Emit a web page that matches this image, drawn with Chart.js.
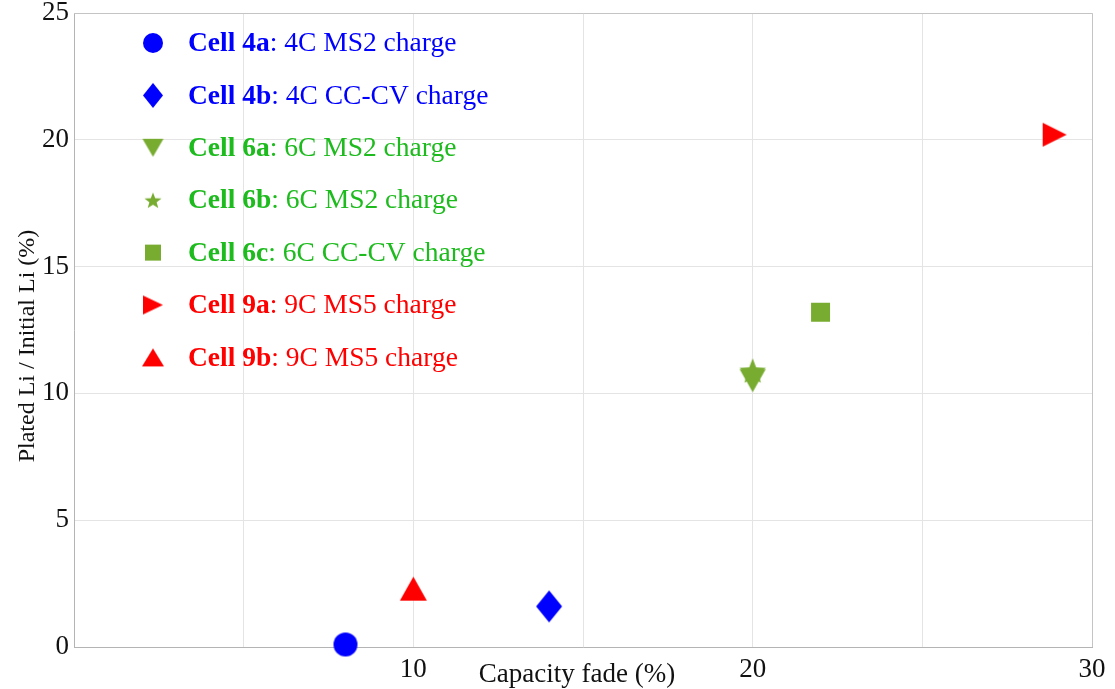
<!DOCTYPE html>
<html>
<head>
<meta charset="utf-8">
<title>Plated Li vs capacity fade</title>
<script src="https://cdn.jsdelivr.net/npm/chart.js@4.4.1/dist/chart.umd.min.js"></script>
<style>
  html, body { margin: 0; padding: 0; background: #fff; }
  #wrap { width: 1115px; height: 689px; position: relative; }
</style>
</head>
<body>
<div id="wrap"><canvas id="chart" width="1115" height="689"></canvas></div>
<script>
// data
const cellNames = ['Cell 4a', 'Cell 4b', 'Cell 6a', 'Cell 6b', 'Cell 6c', 'Cell 9a', 'Cell 9b'];
const chargeNames = ['4C MS2 charge', '4C CC-CV charge', '6C MS2 charge', '6C MS2 charge', '6C CC-CV charge', '9C MS5 charge', '9C MS5 charge'];
const capacityFade = [8, 14, 20, 20, 22, 28.9, 10];
const platedLi = [0.1, 1.6, 10.5, 10.9, 13.2, 20.2, 2.3];
const xTickLabels = [10, 20, 30];
const yTickLabels = [0, 5, 10, 15, 20, 25];

// styles
const BLUE = '#0000ff', GREEN = '#77ac30', RED = '#ff0000';
const shapes = ['circle', 'diamond', 'down', 'star', 'square', 'right', 'up'];
const markerColors = [BLUE, BLUE, GREEN, GREEN, GREEN, RED, RED];
const textColors = [BLUE, BLUE, '#1dbb1d', '#1dbb1d', '#1dbb1d', RED, RED];
const plotSizes = [[24, 24], [26, 32], [26, 23], [28, 27], [19, 19], [24, 24], [27, 24]];
const legendSizes = [[20, 20], [20, 25], [21, 18], [18, 17], [16, 16], [20, 19], [22, 18]];
const SERIF = '"Liberation Serif", "Times New Roman", serif';

function makeMarker(shape, color, w, h) {
  const c = document.createElement('canvas');
  c.width = Math.ceil(w) + 2;
  c.height = Math.ceil(h) + 2;
  const g = c.getContext('2d');
  const cx = c.width / 2, cy = c.height / 2, rx = w / 2, ry = h / 2;
  g.fillStyle = color;
  g.beginPath();
  if (shape === 'circle') {
    g.ellipse(cx, cy, rx, ry, 0, 0, Math.PI * 2);
  } else if (shape === 'diamond') {
    g.moveTo(cx, cy - ry); g.lineTo(cx + rx, cy); g.lineTo(cx, cy + ry); g.lineTo(cx - rx, cy);
  } else if (shape === 'down') {
    g.moveTo(cx - rx, cy - ry); g.lineTo(cx + rx, cy - ry); g.lineTo(cx, cy + ry);
  } else if (shape === 'up') {
    g.moveTo(cx - rx, cy + ry); g.lineTo(cx + rx, cy + ry); g.lineTo(cx, cy - ry);
  } else if (shape === 'right') {
    g.moveTo(cx - rx, cy - ry); g.lineTo(cx + rx, cy); g.lineTo(cx - rx, cy + ry);
  } else if (shape === 'square') {
    g.rect(cx - rx, cy - ry, w, h);
  } else if (shape === 'star') {
    for (let i = 0; i < 10; i++) {
      const r = i % 2 ? 0.42 : 1;
      const a = -Math.PI / 2 + i * Math.PI / 5;
      g.lineTo(cx + rx * r * Math.cos(a), cy + ry * r * Math.sin(a) + ry * 0.1);
    }
  }
  g.closePath();
  g.fill();
  return c;
}

const plotMarkers = shapes.map((s, i) => makeMarker(s, markerColors[i], plotSizes[i][0], plotSizes[i][1]));
const legendMarkers = shapes.map((s, i) => makeMarker(s, markerColors[i], legendSizes[i][0], legendSizes[i][1]));

const datasets = cellNames.map((name, i) => ({
  label: name + ': ' + chargeNames[i],
  data: [{ x: capacityFade[i], y: platedLi[i] }],
  pointStyle: plotMarkers[i],
  pointRadius: 12,
  pointHoverRadius: 12,
  clip: false
}));

// frame, axis titles and the two-font legend
const decorations = {
  id: 'decorations',
  afterDraw(chart) {
    const { ctx, chartArea: a } = chart;
    ctx.save();
    ctx.strokeStyle = '#c4c4c4';
    ctx.lineWidth = 1;
    ctx.beginPath();
    ctx.moveTo(a.left, a.top + 0.5);
    ctx.lineTo(a.right + 0.5, a.top + 0.5);
    ctx.lineTo(a.right + 0.5, a.bottom);
    ctx.stroke();

    ctx.fillStyle = '#111';
    ctx.textAlign = 'center';
    ctx.textBaseline = 'middle';
    ctx.font = '27px ' + SERIF;
    ctx.fillText('Capacity fade (%)', 577, 675);
    ctx.save();
    ctx.translate(28, 346);
    ctx.rotate(-Math.PI / 2);
    ctx.font = '24px ' + SERIF;
    ctx.fillText('Plated Li / Initial Li (%)', 0, 0);
    ctx.restore();

    ctx.textAlign = 'left';
    cellNames.forEach((name, i) => {
      const y = 44 + i * 52.4;
      const m = legendMarkers[i];
      ctx.drawImage(m, 153 - m.width / 2, y - 1 - m.height / 2);
      ctx.fillStyle = textColors[i];
      ctx.font = 'bold 27.5px ' + SERIF;
      ctx.fillText(name, 188, y);
      const w = ctx.measureText(name).width;
      ctx.font = '27.5px ' + SERIF;
      ctx.fillText(': ' + chargeNames[i], 188 + w, y);
    });
    ctx.restore();
  }
};

new Chart(document.getElementById('chart'), {
  type: 'scatter',
  data: { datasets },
  options: {
    responsive: false,
    animation: false,
    events: [],
    layout: { padding: { top: 13, right: 23, left: 0, bottom: 0 } },
    plugins: {
      legend: { display: false },
      tooltip: { enabled: false }
    },
    scales: {
      x: {
        type: 'linear',
        min: 0,
        max: 30,
        afterFit(scale) { scale.height = 42; },
        grid: { color: '#e4e4e4', lineWidth: 1, drawTicks: false },
        border: { display: true, color: '#b4b4b4' },
        ticks: {
          stepSize: 5,
          padding: 9,
          maxRotation: 0,
          color: '#111',
          font: { family: SERIF, size: 27, lineHeight: 1 },
          callback: v => xTickLabels.includes(v) ? String(v) : ''
        }
      },
      y: {
        type: 'linear',
        min: 0,
        max: 25,
        afterFit(scale) { scale.width = 74; },
        grid: { color: '#e4e4e4', lineWidth: 1, drawTicks: false },
        border: { display: true, color: '#b4b4b4' },
        ticks: {
          stepSize: 5,
          padding: 5,
          color: '#111',
          font: { family: SERIF, size: 27, lineHeight: 0.4 },
          callback: v => yTickLabels.includes(v) ? String(v) : ''
        }
      }
    }
  },
  plugins: [decorations]
});
</script>
</body>
</html>
